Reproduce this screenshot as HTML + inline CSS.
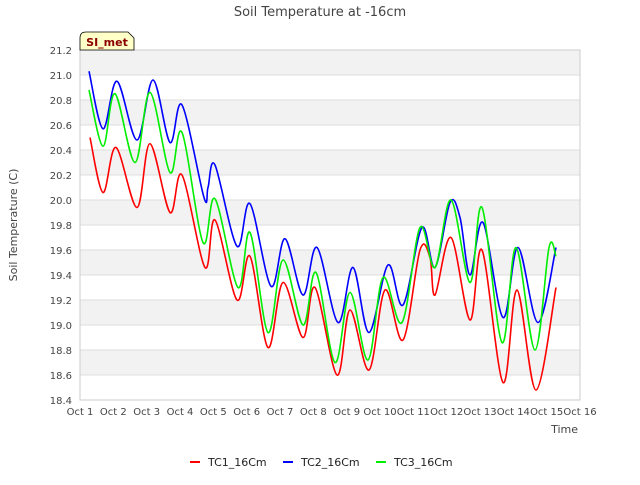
<!DOCTYPE html>
<html><head><meta charset="utf-8"><style>
body{margin:0;background:#fff;}
svg text{font-family:"DejaVu Sans","Liberation Sans",sans-serif;}
</style></head><body>
<svg id="chart" width="640" height="480" xmlns="http://www.w3.org/2000/svg">
<rect width="640" height="480" fill="#fff"/>
<text x="320" y="16" text-anchor="middle" font-size="13" fill="#444">Soil Temperature at -16cm</text>
<g id="grid"></g>
<g id="yticks"></g>
<g id="xticks"></g>
<rect x="80" y="50" width="500" height="350" fill="none" stroke="#ccc"/>
<g id="series"></g>
<text transform="translate(17,225) rotate(-90)" text-anchor="middle" font-size="11" fill="#444">Soil Temperature (C)</text>
<text x="578" y="433" text-anchor="end" font-size="11" fill="#444">Time</text>
<g>
<path d="M80,50 L80,38 Q80,32 86,32 L128,32 L134,38 L134,50 Z" fill="#ffffc8" stroke="#000" stroke-width="0.8"/>
<text x="107" y="46" text-anchor="middle" font-size="11" font-weight="bold" fill="#8b0000">SI_met</text>
</g>
<g>
<g><line x1="190" y1="462" x2="200" y2="462" stroke="#f00" stroke-width="2"/><text x="208" y="466" font-size="11" fill="#222">TC1_16Cm</text></g>
<g><line x1="283" y1="462" x2="293" y2="462" stroke="#00f" stroke-width="2"/><text x="301" y="466" font-size="11" fill="#222">TC2_16Cm</text></g>
<g><line x1="376" y1="462" x2="386" y2="462" stroke="#0e0" stroke-width="2"/><text x="394" y="466" font-size="11" fill="#222">TC3_16Cm</text></g>
</g>
</svg>
<script>
const yTicks=[18.4,18.6,18.8,19.0,19.2,19.4,19.6,19.8,20.0,20.2,20.4,20.6,20.8,21.0,21.2];
const xTickLabels=["Oct 1","Oct 2","Oct 3","Oct 4","Oct 5","Oct 6","Oct 7","Oct 8","Oct 9","Oct 10","Oct 11","Oct 12","Oct 13","Oct 14","Oct 15","Oct 16"];
const tc1Days=[0.3,0.69,1.08,1.71,2.1,2.7,3.06,3.75,4.05,4.71,5.1,5.64,6.09,6.69,7.05,7.71,8.1,8.67,9.15,9.69,10.2,10.5,10.65,11.13,11.7,12.06,12.69,13.11,13.68,14.28];
const tc1Vals=[20.5,20.06,20.42,19.94,20.45,19.9,20.2,19.46,19.84,19.2,19.55,18.82,19.34,18.9,19.3,18.6,19.12,18.64,19.28,18.88,19.6,19.54,19.24,19.7,19.04,19.6,18.54,19.28,18.48,19.3];
const tc2Days=[0.27,0.69,1.11,1.71,2.19,2.7,3.06,3.72,3.84,4.05,4.71,5.1,5.73,6.15,6.69,7.11,7.74,8.19,8.67,9.24,9.69,10.26,10.65,11.1,11.4,11.7,12.09,12.69,13.14,13.74,14.28];
const tc2Vals=[21.03,20.57,20.95,20.48,20.96,20.46,20.76,20.02,20.1,20.28,19.63,19.97,19.31,19.69,19.24,19.62,19.02,19.46,18.94,19.48,19.16,19.78,19.46,19.98,19.86,19.4,19.82,19.06,19.62,19.02,19.62];
const tc3Days=[0.27,0.69,1.05,1.65,2.1,2.7,3.06,3.69,4.05,4.74,5.1,5.64,6.09,6.69,7.08,7.65,8.1,8.64,9.09,9.66,10.2,10.65,11.13,11.7,12.06,12.66,13.08,13.65,14.07,14.28];
const tc3Vals=[20.88,20.43,20.85,20.3,20.86,20.22,20.54,19.66,20.01,19.3,19.74,18.94,19.52,19.0,19.42,18.7,19.26,18.72,19.38,19.02,19.78,19.46,20.0,19.34,19.94,18.86,19.62,18.8,19.62,19.55];
const X0=80,X1=580,Y0=50,Y1=400,YMIN=18.4,YMAX=21.2,DAYS=15;
function xs(d){return X0+d*(X1-X0)/DAYS;}
function ys(v){return Y1-(v-YMIN)*(Y1-Y0)/(YMAX-YMIN);}
const NS="http://www.w3.org/2000/svg";
function mk(tag,attrs,parent){const e=document.createElementNS(NS,tag);for(const k in attrs)e.setAttribute(k,attrs[k]);parent.appendChild(e);return e;}
const grid=document.getElementById('grid'),yt=document.getElementById('yticks'),xt=document.getElementById('xticks');
for(let i=0;i<yTicks.length-1;i++){
  if((yTicks.length-2-i)%2===0){
    const r=mk('rect',{x:X0,y:ys(yTicks[i+1]),width:X1-X0,height:ys(yTicks[i])-ys(yTicks[i+1]),fill:'#f2f2f2'},grid);
    
    
  }
}
yTicks.forEach(v=>{
  const l=mk('line',{x1:X0,x2:X1,y1:ys(v),y2:ys(v),stroke:'#ddd'},grid);
  
  
  const t=mk('text',{x:72,y:ys(v)+4,'text-anchor':'end','font-size':'10',fill:'#444'},yt);
  
  
  t.textContent=v.toFixed(1);
});
xTickLabels.forEach((s,i)=>{
  const t=mk('text',{x:xs(i),y:415,'text-anchor':'middle','font-size':'10',fill:'#444'},xt);
  
  
  t.textContent=s;
});
function pathFor(ds,vs){
  const p=ds.map((d,i)=>[xs(d),ys(vs[i])]);
  let s='M'+p[0][0]+','+p[0][1];
  for(let i=0;i<p.length-1;i++){
    const a=p[Math.max(0,i-1)],b=p[i],c=p[i+1],d=p[Math.min(p.length-1,i+2)];
    const c1x=b[0]+(c[0]-a[0])/6,c1y=b[1]+(c[1]-a[1])/6,c2x=c[0]-(d[0]-b[0])/6,c2y=c[1]-(d[1]-b[1])/6;
    s+=' C'+c1x+','+c1y+' '+c2x+','+c2y+' '+c[0]+','+c[1];
  }
  return s;
}
const ser=document.getElementById('series');
const p1=mk('path',{d:pathFor(tc1Days,tc1Vals),fill:'none',stroke:'#f00','stroke-width':'1.6'},ser);


const p2=mk('path',{d:pathFor(tc2Days,tc2Vals),fill:'none',stroke:'#00f','stroke-width':'1.6'},ser);


const p3=mk('path',{d:pathFor(tc3Days,tc3Vals),fill:'none',stroke:'#0e0','stroke-width':'1.6'},ser);


</script>
</body></html>
